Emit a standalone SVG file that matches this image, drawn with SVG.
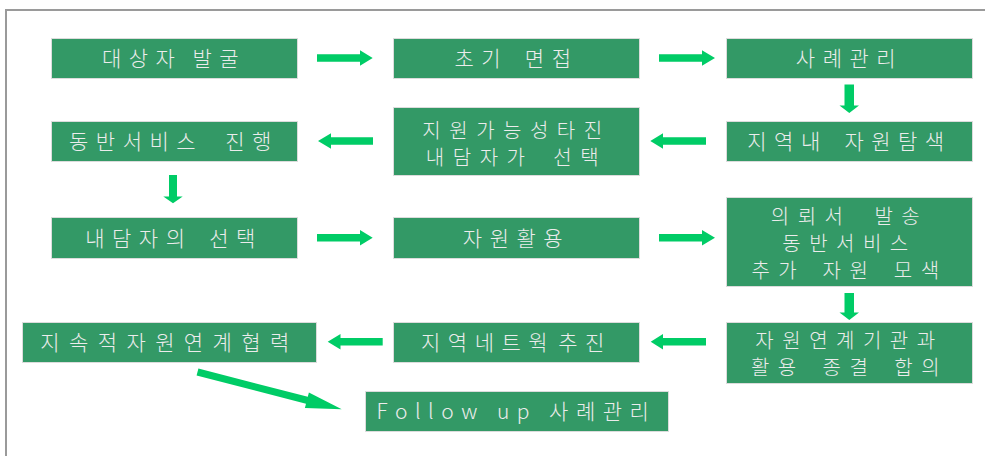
<svg xmlns="http://www.w3.org/2000/svg" width="985" height="456" viewBox="0 0 985 456">
<style>
.box{fill:#339966;stroke:#dcdcdc;stroke-width:1}
.t{font-family:"Noto Sans CJK KR","Noto Sans",sans-serif;font-size:21px;font-weight:300;fill:#ececec;letter-spacing:7.5px;text-anchor:middle}
.m{font-size:20px;letter-spacing:8.5px}
.arr{fill:#00cc66}
</style>
<rect x="0" y="0" width="985" height="456" fill="#ffffff"/>
<rect x="6" y="10" width="1000" height="500" fill="none" stroke="#9a9a9a" stroke-width="2"/>

<g id="n1"><rect class="box" x="51.5" y="38.5" width="246" height="40"/><text class="t" x="174" y="66" style="word-spacing:-2px">대상자 발굴</text></g>
<g id="n2"><rect class="box" x="393.5" y="38.5" width="246" height="40"/><text class="t" x="516.5" y="66" style="word-spacing:4.5px">초기 면접</text></g>
<g id="n3"><rect class="box" x="726.5" y="38.5" width="246" height="40"/><text class="t" x="849.5" y="66">사례관리</text></g>

<g id="n4"><rect class="box" x="51.5" y="121.5" width="246" height="40"/><text class="t" x="174" y="149" style="word-spacing:10px">동반서비스 진행</text></g>
<g id="n5"><rect class="box" x="393.5" y="107.5" width="246" height="68"/><text class="t m" x="516.5" y="137.5">지원가능성타진</text><text class="t m" x="516.5" y="164.5" style="word-spacing:7px">내담자가 선택</text></g>
<g id="n6"><rect class="box" x="726.5" y="121.5" width="246" height="40"/><text class="t" x="849.5" y="149" style="word-spacing:4.5px">지역내 자원탐색</text></g>

<g id="n7"><rect class="box" x="51.5" y="217.5" width="246" height="41"/><text class="t" x="174" y="245.7" style="word-spacing:4.5px">내담자의 선택</text></g>
<g id="n8"><rect class="box" x="393.5" y="217.5" width="246" height="41"/><text class="t" x="516.5" y="245.7">자원활용</text></g>
<g id="n9"><rect class="box" x="726.5" y="197.5" width="246" height="89"/><text class="t m" x="849.5" y="224" style="word-spacing:10px">의뢰서 발송</text><text class="t m" x="849.5" y="251">동반서비스</text><text class="t m" x="849.5" y="278" style="word-spacing:4.5px">추가 자원 모색</text></g>

<g id="n10"><rect class="box" x="22.5" y="322.5" width="294" height="40"/><text class="t" x="169.5" y="350" style="letter-spacing:9.4px">지속적자원연계협력</text></g>
<g id="n11"><rect class="box" x="393.5" y="322.5" width="246" height="40"/><text class="t" x="516.5" y="350" style="word-spacing:-9px">지역네트웍 추진</text></g>
<g id="n12"><rect class="box" x="726.5" y="322.5" width="246" height="61"/><text class="t m" x="849.5" y="348">자원연계기관과</text><text class="t m" x="849.5" y="375" style="word-spacing:5px">활용 종결 합의</text></g>

<g id="n13"><rect class="box" x="365.5" y="391.5" width="303" height="40"/><text class="t" x="516.5" y="419">Follow up 사례관리</text></g>

<g id="connectors">
<polygon class="arr" points="317,54.2 360,54.2 360,50.3 372.7,58 360,65.7 360,61.8 317,61.8"/>
<polygon class="arr" points="659,54.2 702,54.2 702,50.3 715,58 702,65.7 702,61.8 659,61.8"/>
<polygon class="arr" points="844.5,84.5 854,84.5 854,105.5 859,105.5 849.3,113 839.5,105.5 844.5,105.5"/>
<polygon class="arr" points="706,137.2 663,137.2 663,133.3 650.3,141 663,148.7 663,144.8 706,144.8"/>
<polygon class="arr" points="373,137.2 331,137.2 331,133.3 318,141 331,148.7 331,144.8 373,144.8"/>
<polygon class="arr" points="169,175 177,175 177,196.5 182.7,196.5 173,203.3 163.3,196.5 169,196.5"/>
<polygon class="arr" points="317,233.9 360,233.9 360,230 372.7,237.7 360,245.4 360,241.5 317,241.5"/>
<polygon class="arr" points="659,233.9 702,233.9 702,230 715,237.7 702,245.4 702,241.5 659,241.5"/>
<polygon class="arr" points="844.5,293 854,293 854,312.5 859,312.5 849.3,320 839.5,312.5 844.5,312.5"/>
<polygon class="arr" points="706,337.9 663,337.9 663,334 650.7,341.7 663,349.4 663,345.5 706,345.5"/>
<polygon class="arr" points="382.7,337.9 340.5,337.9 340.5,334 327.7,341.7 340.5,349.4 340.5,345.5 382.7,345.5"/>
<polygon class="arr" transform="translate(197.5,372) rotate(14.5)" points="0,-3.6 113,-3.6 113,-8 149,0 113,8 113,3.6 0,3.6"/>
</g>
</svg>
